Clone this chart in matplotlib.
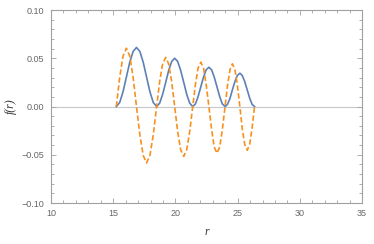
import matplotlib
matplotlib.use('Agg')
import matplotlib.pyplot as plt
from matplotlib.ticker import MultipleLocator

# --- データ ---
r_blue = [15.25, 15.52, 15.79, 16.06, 16.33, 16.60, 16.87, 17.14, 17.41, 17.68, 17.95, 18.22,
          18.49, 18.73, 18.97, 19.22, 19.46, 19.70, 19.94, 20.18, 20.42, 20.67, 20.91, 21.15,
          21.39, 21.61, 21.82, 22.04, 22.26, 22.47, 22.69, 22.91, 23.12, 23.34, 23.56, 23.77,
          23.99, 24.19, 24.39, 24.58, 24.78, 24.98, 25.18, 25.37, 25.57, 25.77, 25.97, 26.16,
          26.36]
f_blue = [0.0, 0.0041, 0.0153, 0.0306, 0.0459, 0.0571, 0.0612, 0.0571, 0.0459, 0.0306, 0.0153, 0.0041,
          0.0, 0.0034, 0.0125, 0.0250, 0.0375, 0.0467, 0.0500, 0.0467, 0.0375, 0.0250, 0.0125, 0.0034,
          0.0, 0.0027, 0.0102, 0.0204, 0.0305, 0.0380, 0.0407, 0.0380, 0.0305, 0.0204, 0.0102, 0.0027,
          0.0, 0.0023, 0.0086, 0.0173, 0.0259, 0.0322, 0.0345, 0.0322, 0.0259, 0.0173, 0.0086, 0.0023,
          0.0]

r_orange = [15.25, 15.52, 15.79, 16.06, 16.33, 16.60, 16.87,
            17.14, 17.41, 17.68, 17.95, 18.22, 18.49,
            18.73, 18.97, 19.22, 19.46, 19.70, 19.94,
            20.18, 20.42, 20.67, 20.91, 21.15, 21.39,
            21.61, 21.82, 22.04, 22.26, 22.47, 22.69,
            22.91, 23.12, 23.34, 23.56, 23.77, 23.99,
            24.19, 24.39, 24.58, 24.78, 24.98, 25.18,
            25.37, 25.57, 25.77, 25.97, 26.16, 26.36]
f_orange = [0.0, 0.0302, 0.0523, 0.0604, 0.0523, 0.0302, 0.0,
            -0.0293, -0.0507, -0.0585, -0.0507, -0.0293, 0.0,
            0.0255, 0.0441, 0.0509, 0.0441, 0.0255, 0.0,
            -0.0259, -0.0448, -0.0517, -0.0448, -0.0259, 0.0,
            0.0230, 0.0398, 0.0459, 0.0398, 0.0230, 0.0,
            -0.0242, -0.0419, -0.0484, -0.0419, -0.0242, 0.0,
            0.0221, 0.0383, 0.0442, 0.0383, 0.0221, 0.0,
            -0.0227, -0.0392, -0.0453, -0.0392, -0.0227, 0.0]

x_ticks = [10, 15, 20, 25, 30, 35]
y_ticks = [-0.10, -0.05, 0.00, 0.05, 0.10]
y_tick_labels = ['\u22120.10', '\u22120.05', '0.00', '0.05', '0.10']

fig = plt.figure(figsize=(3.74, 2.44), dpi=100)
ax = fig.add_axes([0.1364, 0.168, 0.8316, 0.791])

ax.axhline(0, color='#c8c8c8', linewidth=0.8, zorder=1)
ax.plot(r_blue, f_blue, color='#5E81B5', linewidth=1.2, zorder=2)
ax.plot(r_orange, f_orange, color='#F7901E', linewidth=1.2,
        linestyle=(0, (3.2, 1.6)), zorder=3)

ax.set_xlim(10, 35)
ax.set_ylim(-0.10, 0.10)
ax.set_xticks(x_ticks)
ax.set_yticks(y_ticks)
ax.set_yticklabels(y_tick_labels)
ax.xaxis.set_minor_locator(MultipleLocator(1))
ax.yaxis.set_minor_locator(MultipleLocator(0.01))

frame_col = '#a0a0a0'
for sp in ax.spines.values():
    sp.set_color(frame_col)
    sp.set_linewidth(0.8)

ax.tick_params(which='both', direction='in', color=frame_col, width=0.6,
               top=True, right=True, labelcolor='#666666', labelsize=6.5)
ax.tick_params(which='major', length=3.6)
ax.tick_params(which='minor', length=2.0)
ax.tick_params(axis='y', pad=5)
ax.tick_params(axis='x', pad=4)
for lab in ax.get_xticklabels() + ax.get_yticklabels():
    lab.set_family('Liberation Sans')

ax.set_xlabel('r', family='Liberation Serif', style='italic', fontsize=8.5,
              color='#333333', labelpad=6)
ax.set_ylabel('f(r)', family='Liberation Serif', style='italic', fontsize=8.5,
              color='#333333', labelpad=3)

fig.savefig('out.png', dpi=100)
